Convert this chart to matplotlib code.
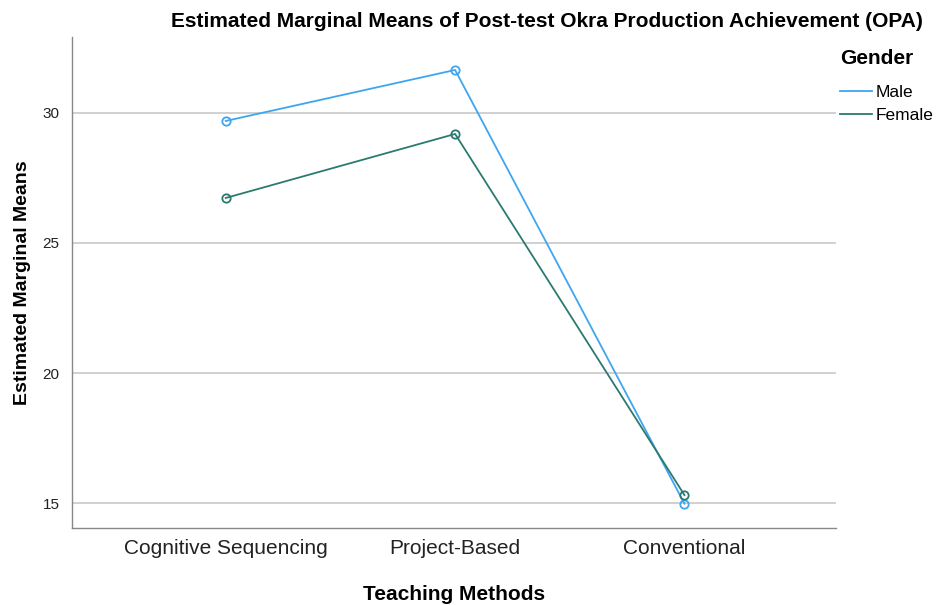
import matplotlib
matplotlib.use('Agg')
import matplotlib.pyplot as plt
from matplotlib.lines import Line2D

plt.rcParams['font.family'] = ['Liberation Sans', 'DejaVu Sans']

methods = ['Cognitive Sequencing', 'Project-Based', 'Conventional']
male = [29.69, 31.65, 14.98]
female = [26.73, 29.19, 15.31]

male_color = '#3ea6f0'
female_color = '#2b7a70'

fig = plt.figure(figsize=(9.36, 6.05), dpi=100)
ax = fig.add_axes([0.077, 0.127, 0.816, 0.812])

x = range(len(methods))
ax.plot(x, male, color=male_color, lw=1.3, marker='o', ms=6,
        mfc='none', mec=male_color, mew=1.3, zorder=3)
ax.plot(x, female, color=female_color, lw=1.3, marker='o', ms=6,
        mfc='none', mec=female_color, mew=1.3, zorder=3)

ax.set_xlim(-0.67, 2.66)
ax.set_ylim(14.04, 32.92)
ax.set_yticks([15, 20, 25, 30])
ax.set_xticks(list(x))
ax.set_xticklabels(methods, fontsize=15, color='#222222')
ax.tick_params(axis='y', labelsize=11, length=0, pad=9, colors='#222222')
ax.tick_params(axis='x', length=0, pad=8)
ax.yaxis.grid(True, color='#c8c8c8', lw=1.2)
ax.set_axisbelow(True)

for s in ['top', 'right']:
    ax.spines[s].set_visible(False)
for s in ['left', 'bottom']:
    ax.spines[s].set_color('#888888')
    ax.spines[s].set_linewidth(1.0)

ax.set_xlabel('Teaching Methods', fontsize=15, fontweight='bold', labelpad=19)
ax.set_ylabel('Estimated Marginal Means', fontsize=14, fontweight='bold', labelpad=8)
fig.text(0.584, 0.965, 'Estimated Marginal Means of Post-test Okra Production Achievement (OPA)',
         ha='center', va='center', fontsize=15, fontweight='bold')

handles = [Line2D([], [], color=male_color, lw=1.3),
           Line2D([], [], color=female_color, lw=1.3)]
leg = ax.legend(handles, ['Male', 'Female'], loc='upper left',
                bbox_to_anchor=(1.005, 0.975), frameon=False,
                title='Gender', fontsize=12.5, handlelength=1.85, handletextpad=0.2,
                labelspacing=0.45, borderaxespad=0, borderpad=0)
leg.get_title().set_fontweight('bold')
leg.get_title().set_fontsize(15)
leg._legend_box.align = 'left'
leg._legend_box.sep = 12

fig.savefig('out.png', dpi=100)
